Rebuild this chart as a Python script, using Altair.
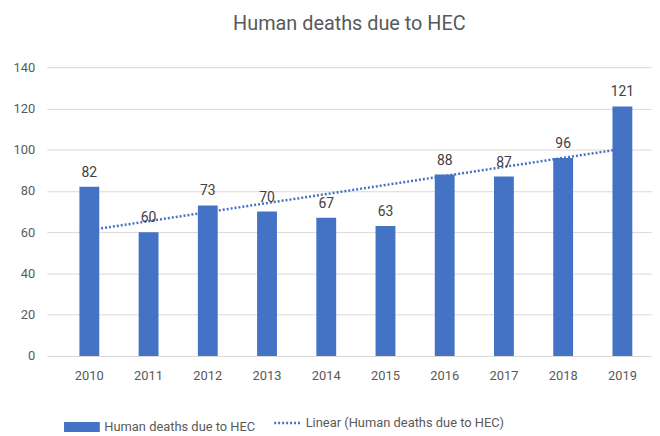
import altair as alt
import pandas as pd

years = [2010, 2011, 2012, 2013, 2014, 2015, 2016, 2017, 2018, 2019]
deaths = [82, 60, 73, 70, 67, 63, 88, 87, 96, 121]
series_name = "Human deaths due to HEC"
trend_name = "Linear (Human deaths due to HEC)"

df = pd.DataFrame({"year": years, "deaths": deaths})
df["series"] = series_name
df["trend"] = trend_name

FONT = "Roboto"
BLUE = "#4472C4"
GRAY = "#595959"

base = alt.Chart(df)

x_enc = alt.X("year:O", title=None,
              scale=alt.Scale(paddingInner=0, paddingOuter=0.11, align=1),
              axis=alt.Axis(labelAngle=0, domain=False, ticks=False, labelPadding=14,
                            labelFontSize=13, labelColor=GRAY, labelFont=FONT))
y_enc = alt.Y("deaths:Q", title=None,
              scale=alt.Scale(domain=[0, 140]),
              axis=alt.Axis(values=[0, 20, 40, 60, 80, 100, 120, 140], domain=False, ticks=False,
                            labelPadding=12, labelFontSize=13, labelColor=GRAY, labelFont=FONT,
                            gridColor="#D9D9D9", gridWidth=1))

bars = base.mark_bar(size=20).encode(
    x=x_enc,
    y=y_enc,
    color=alt.Color("series:N", scale=alt.Scale(range=[BLUE]),
                    legend=alt.Legend(title=None, orient="none", legendX=15, legendY=342,
                                      symbolType="M-1,-0.28H1V0.28H-1Z",
                                      symbolSize=1300, labelFontSize=13, labelFont=FONT,
                                      labelColor=GRAY, symbolStrokeWidth=0, labelLimit=0)),
)

labels = base.mark_text(dy=-14, fontSize=14, color="#404040", font=FONT).encode(
    x="year:O", y="deaths:Q", text="deaths:Q"
)

trend = base.transform_regression("year", "deaths", groupby=["trend"]).mark_line(
    color=BLUE, strokeWidth=2.5, strokeDash=[2, 2]
).encode(
    x="year:O",
    y="deaths:Q",
    strokeDash=alt.StrokeDash("trend:N", scale=alt.Scale(range=[[2, 2]]),
                              legend=alt.Legend(title=None, orient="none", legendX=226, legendY=342,
                                                symbolType="stroke",
                                                symbolSize=700, symbolStrokeColor=BLUE,
                                                symbolStrokeWidth=2.5, labelFontSize=13,
                                                labelFont=FONT, labelColor=GRAY, labelLimit=0)),
)

chart = alt.layer(bars, trend, labels).properties(
    width=610,
    height=291,
    title=alt.Title("Human deaths due to HEC", fontSize=20, font=FONT, color=GRAY,
                    fontWeight="normal", offset=28),
    padding={"left": 5, "top": 4, "right": 0, "bottom": 0},
).configure_view(stroke=None).configure_legend(padding=2)

chart.save("out.html", embed_options={"renderer": "svg", "actions": False})
